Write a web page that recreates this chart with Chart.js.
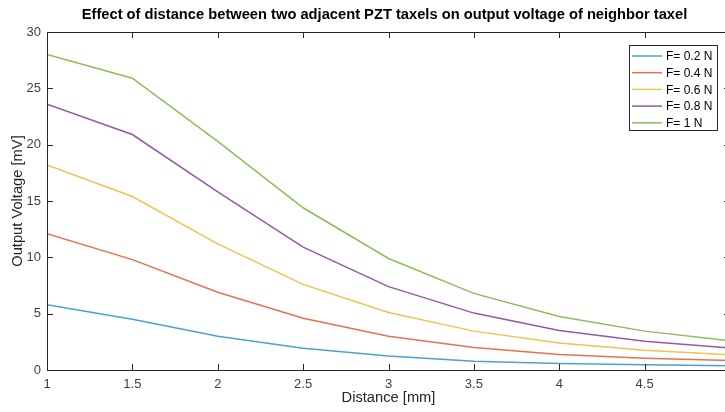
<!DOCTYPE html>
<html>
<head>
<meta charset="utf-8">
<script src="https://cdn.jsdelivr.net/npm/chart.js@4.4.1/dist/chart.umd.min.js"></script>
<style>
  html, body { margin: 0; padding: 0; background: #fff; overflow: hidden; }
  #wrap { width: 745px; height: 412px; position: relative; }
</style>
</head>
<body>
<div id="wrap"><canvas id="grafico"></canvas></div>
<script>
// Dados
const distancias = [1, 1.5, 2, 2.5, 3, 3.5, 4, 4.5, 5];
const f02 = [5.8, 4.5, 3.0, 1.93, 1.25, 0.78, 0.58, 0.46, 0.38];
const f04 = [12.1, 9.8, 6.9, 4.6, 3.0, 2.0, 1.38, 1.05, 0.85];
const f06 = [18.2, 15.4, 11.2, 7.6, 5.1, 3.45, 2.4, 1.75, 1.35];
const f08 = [23.6, 20.9, 15.8, 10.9, 7.4, 5.05, 3.5, 2.55, 1.95];
const f10 = [28.0, 25.9, 20.3, 14.4, 9.9, 6.8, 4.75, 3.45, 2.6];
const rotulos = ['F= 0.2 N', 'F= 0.4 N', 'F= 0.6 N', 'F= 0.8 N', 'F= 1 N'];
const cores = ['#4d9fd6', '#e2744a', '#f0c24e', '#9558a6', '#8dbd58'];

const FONTE = "'Liberation Sans', Arial, Helvetica, sans-serif";
const CINZA = '#404040';

function pontos(valores) {
    return distancias.map((d, i) => ({ x: d, y: valores[i] }));
}

const series = [f02, f04, f06, f08, f10];

// caixa, ticks para dentro, título e legenda no estilo MATLAB
const estiloMatlab = {
    id: 'estiloMatlab',
    afterDraw(chart) {
        const ctx = chart.ctx;
        const a = chart.chartArea;
        const sx = chart.scales.x, sy = chart.scales.y;
        ctx.save();
        ctx.strokeStyle = '#262626';
        ctx.lineWidth = 1;
        ctx.beginPath();
        ctx.rect(a.left + 0.5, a.top + 0.5, a.right - a.left, a.bottom - a.top);
        ctx.stroke();
        // ticks
        ctx.beginPath();
        sx.ticks.forEach(t => {
            const px = Math.round(sx.getPixelForValue(t.value)) + 0.5;
            ctx.moveTo(px, a.bottom); ctx.lineTo(px, a.bottom - 6);
            ctx.moveTo(px, a.top); ctx.lineTo(px, a.top + 6);
        });
        sy.ticks.forEach(t => {
            const py = Math.round(sy.getPixelForValue(t.value)) + 0.5;
            ctx.moveTo(a.left, py); ctx.lineTo(a.left + 6, py);
            ctx.moveTo(a.right, py); ctx.lineTo(a.right - 6, py);
        });
        ctx.stroke();

        // título
        ctx.fillStyle = '#000';
        ctx.font = 'bold 14.7px ' + FONTE;
        ctx.textAlign = 'center';
        ctx.textBaseline = 'middle';
        ctx.fillText('Effect of distance between two adjacent PZT taxels on output voltage of neighbor taxel', (a.left + a.right) / 2 - 4, 15);

        // legenda
        const lx = 629, ly = 45, lw = 88, lh = 85;
        ctx.fillStyle = '#fff';
        ctx.fillRect(lx, ly, lw, lh);
        ctx.strokeStyle = '#262626';
        ctx.strokeRect(lx + 0.5, ly + 0.5, lw, lh);
        ctx.font = '12px ' + FONTE;
        ctx.textAlign = 'left';
        chart.data.datasets.forEach((ds, i) => {
            const y = ly + 11 + i * 16.7;
            ctx.strokeStyle = ds.borderColor;
            ctx.lineWidth = 1.5;
            ctx.beginPath();
            ctx.moveTo(lx + 3, y); ctx.lineTo(lx + 33, y);
            ctx.stroke();
            ctx.fillStyle = '#000';
            ctx.fillText(ds.label, lx + 37, y + 1);
        });
        ctx.restore();
    }
};

new Chart(document.getElementById('grafico'), {
    type: 'line',
    data: {
        datasets: series.map((s, i) => ({
            label: rotulos[i],
            data: pontos(s),
            borderColor: cores[i],
            backgroundColor: cores[i],
            borderWidth: 1.5,
            pointRadius: 0,
            tension: 0,
            fill: false
        }))
    },
    options: {
        responsive: true,
        maintainAspectRatio: false,
        animation: false,
        layout: { padding: { top: 32, right: 15, left: 0, bottom: 0 } },
        plugins: {
            legend: { display: false },
            title: { display: false },
            tooltip: { enabled: false }
        },
        scales: {
            x: {
                type: 'linear',
                min: 1,
                max: 5,
                afterFit(scale) { scale.height = 42; },
                ticks: {
                    stepSize: 0.5,
                    padding: 7,
                    maxRotation: 0,
                    color: CINZA,
                    font: { size: 13, family: FONTE },
                    callback: v => String(Number(v))
                },
                grid: { display: false, drawTicks: false },
                border: { display: false },
                title: {
                    display: true,
                    text: 'Distance [mm]',
                    color: '#262626',
                    font: { size: 14.7, family: FONTE },
                    padding: { top: 0, bottom: 5 }
                }
            },
            y: {
                min: 0,
                max: 30,
                afterFit(scale) { scale.width = 47; },
                ticks: {
                    stepSize: 5,
                    padding: 6,
                    color: CINZA,
                    font: { size: 13, family: FONTE }
                },
                grid: { display: false, drawTicks: false },
                border: { display: false },
                title: {
                    display: true,
                    text: 'Output Voltage [mV]',
                    color: '#262626',
                    font: { size: 14.7, family: FONTE },
                    padding: { top: 9, bottom: 0 }
                }
            }
        }
    },
    plugins: [estiloMatlab]
});
</script>
</body>
</html>
